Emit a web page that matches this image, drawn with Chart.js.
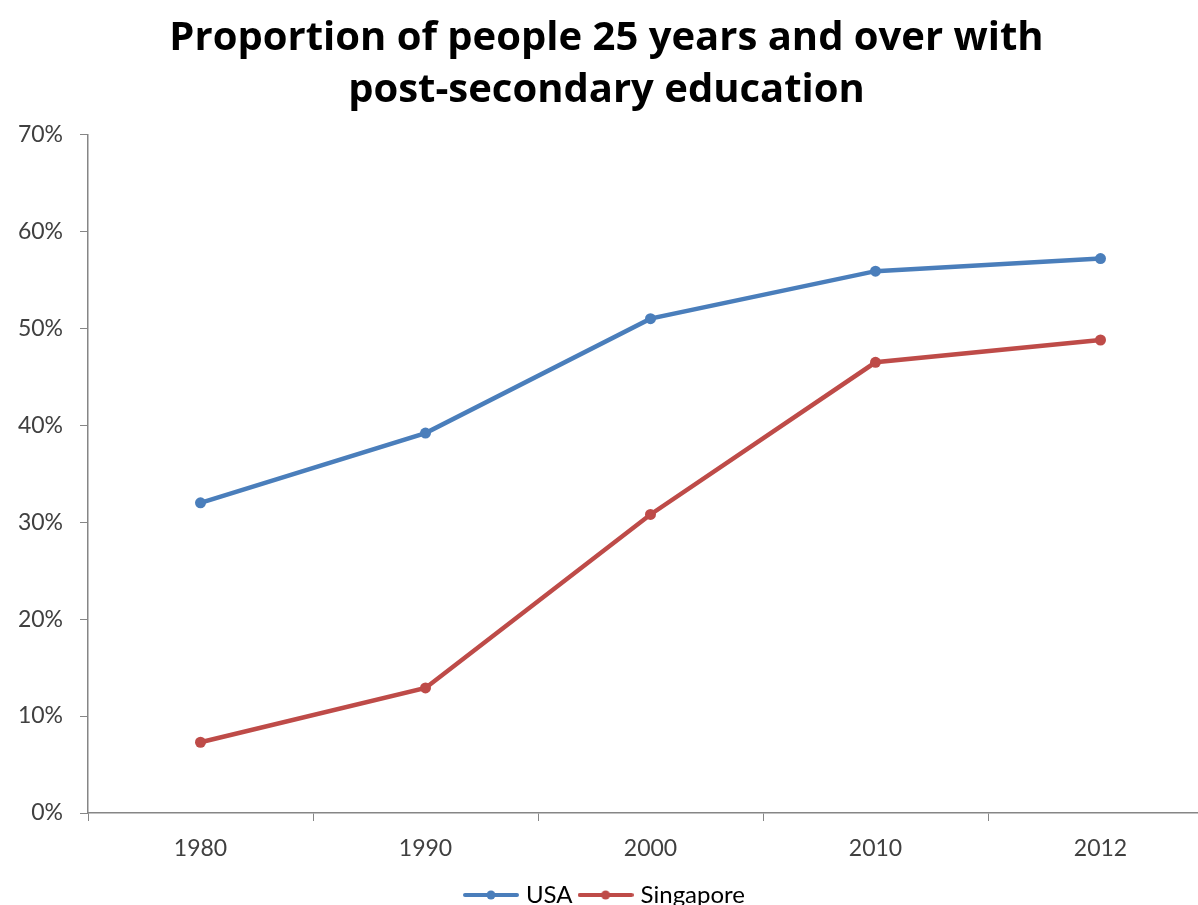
<!DOCTYPE html>
<html>
<head>
<meta charset="utf-8">
<script src="https://cdn.jsdelivr.net/npm/chart.js@4"></script>
<style>
  html, body { margin: 0; padding: 0; background: #fff; }
  #wrap { width: 1198px; height: 905px; overflow: hidden; position: relative; }
  #box { width: 1220px; height: 917px; position: absolute; left: 0; top: 0; }
</style>
</head>
<body>
<div id="wrap"><div id="box"><canvas id="c"></canvas></div></div>
<script>
// Census years
const years = ['1980', '1990', '2000', '2010', '2012'];
// Share of people aged 25+ with post-secondary education, in percent
const usa = [32.0, 39.2, 51.0, 55.9, 57.2];
const singapore = [7.3, 12.9, 30.8, 46.5, 48.8];
// Value axis ticks, in percent
const yTicks = [0, 10, 20, 30, 40, 50, 60, 70];

const titleLines = ['Proportion of people 25 years and over with', 'post-secondary education'];
const blue = '#4A7EBB';
const red = '#BE4B48';
const axisGray = '#868686';
const textGray = '#404040';
const font = 'Lato, "Open Sans", sans-serif';
const titleFont = '"Open Sans", Lato, sans-serif';

// Legend swatch: a short line with a dot in its middle
function swatch(color) {
  const cv = document.createElement('canvas');
  cv.width = 56; cv.height = 12;
  const g = cv.getContext('2d');
  g.strokeStyle = color; g.lineWidth = 4; g.lineCap = 'round';
  g.beginPath(); g.moveTo(2, 6); g.lineTo(54, 6); g.stroke();
  g.fillStyle = color;
  g.beginPath(); g.arc(28, 6, 4.5, 0, Math.PI * 2); g.fill();
  return cv;
}

const series = [
  { label: 'USA', data: usa, color: blue },
  { label: 'Singapore', data: singapore, color: red }
];

new Chart(document.getElementById('c'), {
  type: 'line',
  data: {
    labels: years,
    datasets: series.map(s => ({
      label: s.label,
      data: s.data,
      borderColor: s.color,
      backgroundColor: s.color,
      borderWidth: 4.5,
      pointRadius: 5.5,
      pointHoverRadius: 5.5,
      pointBorderWidth: 0,
      pointStyle: 'circle',
      tension: 0,
      clip: false
    }))
  },
  options: {
    responsive: true,
    maintainAspectRatio: false,
    animation: false,
    devicePixelRatio: 1,
    layout: { padding: { left: 0, right: 7, top: 0, bottom: 0 } },
    plugins: {
      tooltip: { enabled: false },
      title: {
        display: true,
        text: titleLines,
        color: '#000',
        font: { family: titleFont, size: 40, weight: 'bold', lineHeight: 1.3 },
        padding: { top: 12.5, bottom: 18 }
      },
      legend: {
        display: true,
        position: 'bottom',
        labels: {
          usePointStyle: true,
          pointStyleWidth: 46,
          boxHeight: 12,
          padding: 10,
          color: textGray,
          font: { family: font, size: 24 },
          generateLabels: (chart) => series.map((s, i) => ({
            text: s.label,
            pointStyle: swatch(s.color),
            fillStyle: s.color,
            strokeStyle: s.color,
            lineWidth: 0,
            hidden: false,
            datasetIndex: i
          }))
        }
      }
    },
    scales: {
      x: {
        type: 'category',
        offset: true,
        grid: {
          display: true,
          offset: true,
          drawOnChartArea: false,
          drawTicks: true,
          tickLength: 8,
          color: axisGray,
          lineWidth: 1
        },
        border: { display: true, color: axisGray, width: 1.5 },
        ticks: { color: textGray, font: { family: font, size: 23 }, padding: 14, maxRotation: 0 },
        afterFit: (scale) => { scale.height = 60; }
      },
      y: {
        min: 0,
        max: 70,
        afterBuildTicks: (scale) => { scale.ticks = yTicks.map(v => ({ value: v })); },
        grid: {
          display: true,
          drawOnChartArea: false,
          drawTicks: true,
          tickLength: 8,
          color: axisGray,
          lineWidth: 1
        },
        border: { display: true, color: axisGray, width: 1.5 },
        ticks: {
          color: textGray,
          font: { family: font, size: 23 },
          padding: 17,
          callback: (v) => v + '%'
        },
        afterFit: (scale) => { scale.width = 88; }
      }
    }
  }
});
</script>
</body>
</html>
